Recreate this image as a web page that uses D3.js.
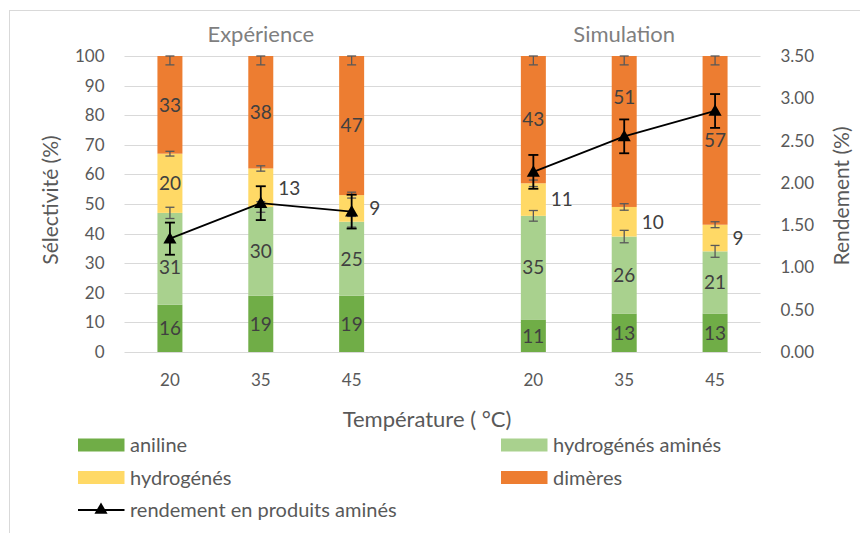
<!DOCTYPE html>
<html>
<head>
<meta charset="utf-8">
<script src="https://cdn.jsdelivr.net/npm/d3@7/dist/d3.min.js"></script>
<style>
  html, body { margin: 0; padding: 0; background: #fff; }
  svg { display: block; font-family: Lato, "Open Sans", sans-serif; }
</style>
</head>
<body>
<svg id="chart" width="860" height="533"></svg>
<script>
// Temperature categories (empty slot separates the two groups)
const categories = ["20", "35", "45", "", "20", "35", "45"];
const groupTitles = ["Expérience", "Simulation"];
const groupCenters = [1, 5]; // category index under each group title

// Selectivity (%) per product family
const aniline      = [16, 19, 19, null, 11, 13, 13];
const hydroAmines  = [31, 30, 25, null, 35, 26, 21];
const hydrogenes   = [20, 13,  9, null, 11, 10,  9];
const dimeres      = [33, 38, 47, null, 43, 51, 57];

// Error bars on selectivity (%)
const hydroAminesErr = [1.9, 1.8, 1.8, null, 1.8, 2.1, 2.0];
const hydrogenesErr  = [0.8, 0.9, 1.0, null, 1.1, 1.1, 1.0];
const dimeresErr     = [3, 3, 3, null, 3, 3, 3];

// Yield of aminated products (%), right axis
const rendement    = [1.34, 1.76, 1.66, null, 2.13, 2.55, 2.85];
const rendementErr = [0.19, 0.20, 0.20, null, 0.20, 0.20, 0.20];

const leftTicks  = [0, 10, 20, 30, 40, 50, 60, 70, 80, 90, 100];
const rightTicks = [0, 0.5, 1, 1.5, 2, 2.5, 3, 3.5];

const seriesNames  = ["aniline", "hydrogénés aminés", "hydrogénés", "dimères"];
const seriesColors = ["#70ad47", "#a9d18e", "#ffd966", "#ed7d31"];
const lineName = "rendement en produits aminés";

const svg = d3.select("#chart");
const plot = { left: 124.5, right: 760.5, top: 56, bottom: 352 };

const x = d3.scaleBand()
  .domain(d3.range(categories.length))
  .range([plot.left, plot.right])
  .paddingInner(0.725)
  .paddingOuter(0.3625);
const yL = d3.scaleLinear().domain([0, 100]).range([plot.bottom, plot.top]);
const yR = d3.scaleLinear().domain([0, 3.5]).range([plot.bottom, plot.top]);

// Chart frame
svg.append("rect")
  .attr("x", 9.5).attr("y", 10.5).attr("width", 900).attr("height", 600)
  .attr("fill", "none").attr("stroke", "#d9d9d9").attr("stroke-width", 1);

// Gridlines
svg.append("g").selectAll("line").data(leftTicks).join("line")
  .attr("x1", plot.left).attr("x2", plot.right)
  .attr("y1", d => Math.round(yL(d)) + 0.5).attr("y2", d => Math.round(yL(d)) + 0.5)
  .attr("stroke", "#d9d9d9").attr("stroke-width", 1);

// Left axis
const axL = svg.append("g").attr("transform", `translate(${plot.left},0)`)
  .call(d3.axisLeft(yL).tickValues(leftTicks).tickSize(0).tickPadding(20));
axL.select(".domain").remove();
axL.selectAll("text").attr("font-family", "Lato").attr("font-size", 17).attr("fill", "#595959");

// Right axis
const axR = svg.append("g").attr("transform", `translate(${plot.right},0)`)
  .call(d3.axisRight(yR).tickValues(rightTicks).tickSize(0).tickPadding(20).tickFormat(d3.format(".2f")));
axR.select(".domain").remove();
axR.selectAll("text").attr("font-family", "Lato").attr("font-size", 17).attr("fill", "#595959");

// Bottom axis
const axB = svg.append("g").attr("transform", `translate(0,${plot.bottom})`)
  .call(d3.axisBottom(x).tickSize(0).tickPadding(22).tickFormat(i => categories[i]));
axB.select(".domain").attr("stroke", "#d9d9d9");
axB.selectAll("text").attr("font-family", "Lato").attr("font-size", 17).attr("fill", "#595959");

// Stacked bars
const idx = d3.range(categories.length).filter(i => aniline[i] != null);
const rows = idx.map(i => ({ i, s0: aniline[i], s1: hydroAmines[i], s2: hydrogenes[i], s3: dimeres[i] }));
const stack = d3.stack().keys(["s0", "s1", "s2", "s3"])(rows);

const barG = svg.append("g");
stack.forEach((layer, k) => {
  barG.selectAll(null).data(layer).join("rect")
    .attr("x", d => x(d.data.i))
    .attr("width", x.bandwidth())
    .attr("y", d => yL(d[1]))
    .attr("height", d => yL(d[0]) - yL(d[1]))
    .attr("fill", seriesColors[k]);
});

// Error bar: vertical stem with a cap at each end
function errBar(g, cx, yTop, yBot, capW, color, w) {
  g.append("line").attr("x1", cx).attr("x2", cx).attr("y1", yTop).attr("y2", yBot)
    .attr("stroke", color).attr("stroke-width", w);
  [yTop, yBot].forEach(yy => g.append("line")
    .attr("x1", cx - capW / 2).attr("x2", cx + capW / 2).attr("y1", yy).attr("y2", yy)
    .attr("stroke", color).attr("stroke-width", w));
}

// Grey error bars at the top of each stacked segment (kept inside 0–100 %)
const errG = svg.append("g");
const segErrors = [[1, hydroAminesErr], [2, hydrogenesErr], [3, dimeresErr]];
segErrors.forEach(([k, errs]) => {
  stack[k].forEach(d => {
    const e = errs[d.data.i];
    const cx = x(d.data.i) + x.bandwidth() / 2;
    errBar(errG, cx, yL(Math.min(d[1] + e, 100)), yL(d[1] - e), 9, "#595959", 1.3);
  });
});

// Yield line (drawn per group, gap in between)
const lineG = svg.append("g");
const line = d3.line()
  .defined(i => rendement[i] != null)
  .x(i => x(i) + x.bandwidth() / 2)
  .y(i => yR(rendement[i]));
lineG.append("path").datum(d3.range(categories.length))
  .attr("d", line).attr("fill", "none").attr("stroke", "#000").attr("stroke-width", 1.8);

// Yield error bars
idx.forEach(i => {
  const cx = x(i) + x.bandwidth() / 2;
  errBar(lineG, cx, yR(rendement[i] + rendementErr[i]), yR(rendement[i] - rendementErr[i]), 10, "#000", 1.8);
});

// Triangle markers
const tri = d3.symbol().type(d3.symbolTriangle).size(75);
lineG.selectAll("path.mk").data(idx).join("path").attr("class", "mk")
  .attr("d", tri)
  .attr("transform", i => `translate(${x(i) + x.bandwidth() / 2},${yR(rendement[i]) + 1})`)
  .attr("fill", "#000");

// Data labels
const labelG = svg.append("g").attr("font-family", "Lato").attr("font-size", 19).attr("fill", "#404040");
const seriesVals = [aniline, hydroAmines, hydrogenes, dimeres];
// hydrogénés labels sit beside the bar except in the first column
const besideBar = { 2: new Set([1, 2, 4, 5, 6]) };
// hand-placed offsets to keep labels clear of the yield markers
const labelNudge = { "1:0": 8, "3:5": -34 };
stack.forEach((layer, k) => {
  layer.forEach(d => {
    const i = d.data.i;
    const cy = (yL(d[0]) + yL(d[1])) / 2 + (labelNudge[`${k}:${i}`] || 0);
    const beside = besideBar[k] && besideBar[k].has(i);
    labelG.append("text")
      .attr("x", beside ? x(i) + x.bandwidth() + 5 : x(i) + x.bandwidth() / 2)
      .attr("y", cy)
      .attr("dy", "0.36em")
      .attr("text-anchor", beside ? "start" : "middle")
      .text(seriesVals[k][i]);
  });
});

// Group titles
groupTitles.forEach((t, g) => {
  svg.append("text")
    .attr("x", x(groupCenters[g]) + x.bandwidth() / 2)
    .attr("y", 41.5)
    .attr("text-anchor", "middle")
    .attr("font-family", "Lato").attr("font-size", 22).attr("fill", "#7f7f7f")
    .text(t);
});

// Axis titles
svg.append("text")
  .attr("transform", "translate(58,200) rotate(-90)")
  .attr("text-anchor", "middle")
  .attr("font-family", "Lato").attr("font-size", 21).attr("fill", "#595959")
  .text("Sélectivité (%)");
svg.append("text")
  .attr("transform", "translate(849,196) rotate(-90)")
  .attr("text-anchor", "middle")
  .attr("font-family", "Lato").attr("font-size", 21).attr("fill", "#595959")
  .text("Rendement (%)");
svg.append("text")
  .attr("x", 427).attr("y", 427)
  .attr("text-anchor", "middle")
  .attr("font-family", "Lato").attr("font-size", 22).attr("fill", "#595959")
  .text("Température ( °C)");

// Legend
const legend = svg.append("g").attr("font-family", "Lato").attr("font-size", 20).attr("fill", "#595959");
const legendPos = [[78, 445], [501, 445], [78, 477.5], [501, 477.5]];
seriesNames.forEach((n, k) => {
  const [lx, ly] = legendPos[k];
  legend.append("rect").attr("x", lx).attr("y", ly - 6.5).attr("width", 46.5).attr("height", 13)
    .attr("fill", seriesColors[k]);
  legend.append("text").attr("x", lx + 52).attr("y", ly).attr("dy", "0.36em").text(n);
});
const ly3 = 510;
legend.append("line").attr("x1", 78).attr("x2", 124.5).attr("y1", ly3).attr("y2", ly3)
  .attr("stroke", "#000").attr("stroke-width", 1.8);
legend.append("path").attr("d", tri).attr("transform", `translate(101,${ly3})`).attr("fill", "#000");
legend.append("text").attr("x", 130).attr("y", ly3).attr("dy", "0.36em").text(lineName);
</script>
</body>
</html>
